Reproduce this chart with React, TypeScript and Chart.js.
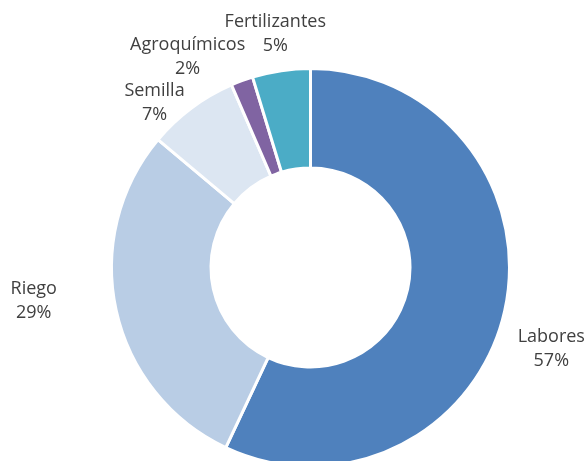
import React, { useEffect, useRef } from "react";
import { Chart, registerables } from "chart.js";

Chart.register(...registerables);

const CATEGORIES = ["Labores", "Riego", "Semilla", "Agroquímicos", "Fertilizantes"];
const VALUES = [57.0, 29.1, 7.4, 1.8, 4.7];
const COLORS = ["#4F81BD", "#B9CDE5", "#DCE6F2", "#8064A2", "#4BACC6"];
// label nudges (dx, dy) relative to the automatic outside placement
const LABEL_NUDGE: [number, number][] = [
  [4, 31],
  [-50, -17],
  [-13, 22],
  [-31, 8],
  [3, -3],
];

const FONT = '18px "Open Sans"';
const LINE_H = 24;
const GAP = 10;

const outLabels = {
  id: "outLabels",
  afterDatasetsDraw(chart: any) {
    const ctx = chart.ctx;
    const meta = chart.getDatasetMeta(0);
    const total = VALUES.reduce((a, b) => a + b, 0);
    ctx.save();
    ctx.font = FONT;
    ctx.fillStyle = "#404040";
    ctx.textAlign = "center";
    ctx.textBaseline = "middle";
    meta.data.forEach((arc: any, i: number) => {
      const { x, y, startAngle, endAngle, outerRadius } = arc.getProps(
        ["x", "y", "startAngle", "endAngle", "outerRadius"],
        true
      );
      const mid = (startAngle + endAngle) / 2;
      const c = Math.cos(mid);
      const s = Math.sin(mid);
      const ax = x + (outerRadius + GAP) * c;
      const ay = y + (outerRadius + GAP) * s;
      const lines = [CATEGORIES[i], Math.round((VALUES[i] / total) * 100) + "%"];
      const w = Math.max(...lines.map((l) => ctx.measureText(l).width));
      const h = LINE_H * lines.length;
      const cx = ax + (c * w) / 2 + LABEL_NUDGE[i][0];
      const cy = ay + (s * h) / 2 + LABEL_NUDGE[i][1];
      lines.forEach((l, k) => {
        ctx.fillText(l, cx, cy - h / 2 + LINE_H * (k + 0.5));
      });
    });
    ctx.restore();
  },
};

export default function App() {
  const ref = useRef<HTMLCanvasElement | null>(null);
  useEffect(() => {
    if (!ref.current) return;
    const chart = new Chart(ref.current, {
      type: "doughnut",
      data: {
        labels: CATEGORIES,
        datasets: [
          {
            data: VALUES,
            backgroundColor: COLORS,
            borderColor: "#FFFFFF",
            borderWidth: 3,
            clip: false as any,
          } as any,
        ],
      },
      options: {
        responsive: false,
        animation: false,
        radius: 199,
        cutout: "50%",
        layout: { padding: { left: 34, right: 0, top: 74, bottom: 0 } },
        plugins: {
          legend: { display: false },
          tooltip: { enabled: false },
        },
      } as any,
      plugins: [outLabels],
    });
    return () => chart.destroy();
  }, []);
  return (
    <div
      style={{
        position: "fixed",
        left: 0,
        top: 0,
        width: 587,
        height: 461,
        overflow: "hidden",
        background: "#FFFFFF",
      }}
    >
      <canvas ref={ref} width={587} height={461} style={{ display: "block" }} />
    </div>
  );
}
